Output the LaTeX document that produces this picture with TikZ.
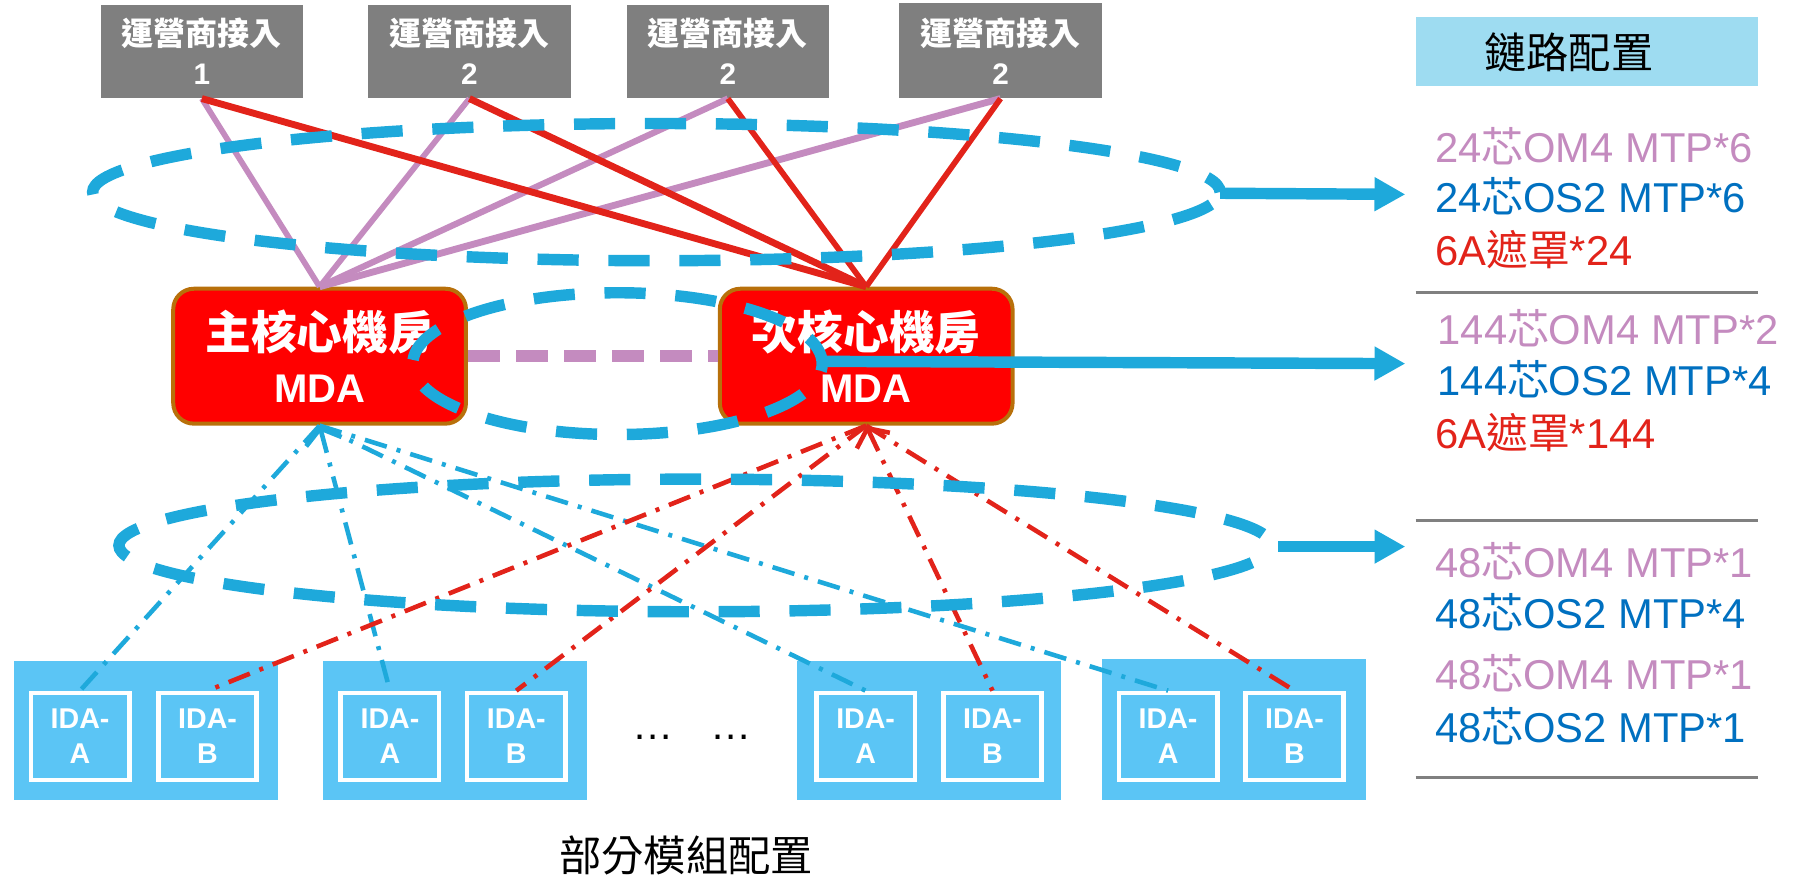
\documentclass[tikz,border=0pt]{standalone}
\usepackage{fontspec}
\setmainfont{Liberation Sans}
\newfontfamily\cjk{Noto Sans CJK TC}
\usetikzlibrary{arrows.meta}
\definecolor{ellblue}{HTML}{1EA9DB}
\definecolor{lnred}{HTML}{E2231A}
\definecolor{lnpink}{HTML}{C48BBF}
\definecolor{boxgray}{HTML}{7F7F7F}
\definecolor{mdared}{HTML}{FF0000}
\definecolor{mdaedge}{HTML}{B8700A}
\definecolor{idafill}{HTML}{5BC5F5}
\definecolor{hdrfill}{HTML}{9EDCF1}
\definecolor{txtblue}{HTML}{0070C0}
\definecolor{txtred}{HTML}{E2231A}
\definecolor{rulegray}{HTML}{808080}
\newcommand\zh[1]{{\cjk #1}}
\begin{document}
\begin{tikzpicture}[x=1pt,y=-1pt,
 graybox/.style={fill=boxgray, minimum width=177pt, minimum height=82pt, inner sep=0pt, text=white, align=center, font=\bfseries\fontsize{28}{34}\selectfont},
 mdabox/.style={fill=mdared, draw=mdaedge, line width=3.5pt, rounded corners=18pt, minimum width=256pt, minimum height=118pt, inner sep=0pt, text=white, align=center, font=\bfseries\fontsize{40}{47}\selectfont},
 idagroup/.style={fill=idafill, minimum width=231pt, minimum height=122pt, inner sep=0pt},
 idabox/.style={fill=idafill, draw=white, line width=4pt, minimum width=86pt, minimum height=76pt, inner sep=0pt, text=white, align=center, font=\bfseries\fontsize{25}{31}\selectfont},
 pinkln/.style={draw=lnpink, line width=#1},
 redln/.style={draw=lnred, line width=#1},
 ddblue/.style={draw=ellblue, line width=4pt, dash pattern=on 20pt off 9pt on 3.5pt off 9pt},
 ddred/.style={draw=lnred, line width=4pt, dash pattern=on 20pt off 9pt on 3.5pt off 9pt},
 ell/.style={draw=ellblue, line width=10pt, dash pattern=on 36pt off 26pt},
 bluearrow/.style={draw=ellblue, line width=10pt, -{Triangle[length=27pt,width=28pt]}},
 barb/.style={{Straight Barb[length=12pt,width=32pt]}-},
 item/.style={anchor=west, inner sep=0pt, text height=26pt, text depth=0pt, font=\fontsize{36.5}{43}\selectfont},
 rule/.style={draw=rulegray, line width=3pt},
]
\useasboundingbox (0,0) rectangle (1568,770);

% operator boxes
\node[graybox] (g1) at (176.5,45) {\zh{運營商接入}\\{\fontsize{26}{34}\selectfont 1}};
\node[graybox] (g2) at (410.5,45) {\zh{運營商接入}\\{\fontsize{26}{34}\selectfont 2}};
\node[graybox] (g3) at (636.5,45) {\zh{運營商接入}\\{\fontsize{26}{34}\selectfont 2}};
\node[graybox, minimum width=178pt, minimum height=83pt] (g4) at (875,44.5) {\zh{運營商接入}\\{\fontsize{26}{34}\selectfont 2}};

% IDA groups
\node[idagroup] (grp1) at (128,639) {};
\node[idagroup] (grp2) at (398,639) {};
\node[idagroup] (grp3) at (812.5,639) {};
\node[idagroup, minimum height=124pt] (grp4) at (1079,638) {};
\node[idabox] (ia1) at (70,644) {IDA-\\A};
\node[idabox] (ib1) at (181.5,644) {IDA-\\B};
\node[idabox] (ia2) at (341,644) {IDA-\\A};
\node[idabox] (ib2) at (451.5,644) {IDA-\\B};
\node[idabox] (ia3) at (757,644) {IDA-\\A};
\node[idabox] (ib3) at (868,644) {IDA-\\B};
\node[idabox] (ia4) at (1021.5,644) {IDA-\\A};
\node[idabox] (ib4) at (1132,644) {IDA-\\B};
\node[anchor=base, inner sep=0pt, font=\fontsize{36}{40}\selectfont] (dots) at (605,647) {…\hspace{32pt}…};

% MDA boxes
\node[mdabox] (m1) at (279.5,311.5) {\zh{主核心機房}\\{\fontsize{35}{47}\selectfont MDA}};
\node[mdabox] (m2) at (757.5,311.5) {\zh{次核心機房}\\{\fontsize{35}{47}\selectfont MDA}};

% uplinks
\draw[pinkln=5pt] (g1.south) -- (m1.north);
\draw[pinkln=5pt] (g2.south) -- (m1.north);
\draw[pinkln=5.5pt] (g3.south) -- (m1.north);
\draw[pinkln=6pt] (g4.south) -- (m1.north);
\draw[redln=6pt] (g1.south) -- (m2.north);
\draw[redln=6pt] (g2.south) -- (m2.north);
\draw[redln=5pt] (g3.south) -- (m2.north);
\draw[redln=5pt] (g4.south) -- (m2.north);

% downlinks
\draw[ddblue] (m1.south) -- (ia1.north);
\draw[ddblue, barb] (m1.south) -- (ia2.north);
\draw[ddblue] (m1.south) -- (ia3.north);
\draw[ddblue] (m1.south) -- (ia4.north);
\draw[ddred] (m2.south) -- (ib1.north);
\draw[ddred] (m2.south) -- (ib2.north);
\draw[ddred, barb] (m2.south) -- (ib3.north);
\draw[ddred] (m2.south) -- (ib4.north);

% MDA interlink
\draw[draw=lnpink, line width=10pt, dash pattern=on 28pt off 14pt] (m1.east) -- (m2.west);

% ellipses
\draw[ell, dash phase=18pt] (574,168) ellipse [x radius=493pt, y radius=60pt];
\draw[ell, dash phase=10pt] (540,318) ellipse [x radius=179pt, y radius=62pt];
\draw[ell, dash phase=49pt] (608,477) ellipse [x radius=504pt, y radius=58pt];

\coordinate (e1r) at (1067,169);
\coordinate (t1) at (1229,170);
\coordinate (e2r) at (716,316);
\coordinate (t2) at (1229,318);
\coordinate (e3r) at (1118,478);
\coordinate (t3) at (1229,478);
\draw[bluearrow] (e1r) -- (t1);
\draw[bluearrow] (e2r) -- (t2);
\draw[bluearrow] (e3r) -- (t3);

% right panel
\node[fill=hdrfill, minimum width=299pt, minimum height=61pt, inner sep=0pt] (hdr) at (1387.5,45) {};
\node[inner sep=0pt, font=\cjk\fontsize{37}{40}\selectfont] (hdrt) at (1372,46) {鏈路配置};

\node[item, text=lnpink] (r1) at (1255,129) {24\zh{芯}OM4 MTP*6};
\node[item, text=txtblue] (r2) at (1255,173) {24\zh{芯}OS2 MTP*6};
\node[item, text=txtred] (r3) at (1255,219) {6A\zh{遮罩}*24};
\draw[rule] (1238,256) -- (1537,256);
\node[item, text=lnpink] (r4) at (1257,288) {144\zh{芯}OM4 MTP*2};
\node[item, text=txtblue] (r5) at (1257,333) {144\zh{芯}OS2 MTP*4};
\node[item, text=txtred] (r6) at (1255,379) {6A\zh{遮罩}*144};
\draw[rule] (1238,455) -- (1537,455);
\node[item, text=lnpink] (r7) at (1255,492) {48\zh{芯}OM4 MTP*1};
\node[item, text=txtblue] (r8) at (1255,537) {48\zh{芯}OS2 MTP*4};
\node[item, text=lnpink] (r9) at (1255,590) {48\zh{芯}OM4 MTP*1};
\node[item, text=txtblue] (r10) at (1255,636) {48\zh{芯}OS2 MTP*1};
\draw[rule] (1238,680) -- (1537,680);

% caption
\node[inner sep=0pt, font=\cjk\fontsize{37}{40}\selectfont] (cap) at (600,748) {部分模組配置};
\end{tikzpicture}
\end{document}
